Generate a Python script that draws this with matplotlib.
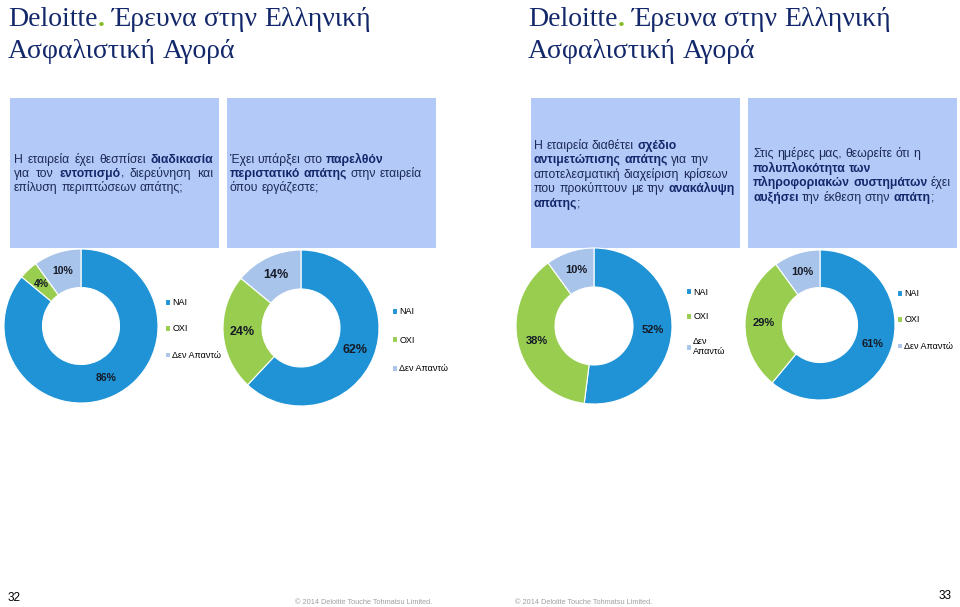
import re
import matplotlib
matplotlib.use("Agg")
import matplotlib.pyplot as plt

# data
categories = ["ΝΑΙ", "ΟΧΙ", "Δεν Απαντώ"]
procedure_vals = [86, 4, 10]      # διαδικασία εντοπισμού
incident_vals = [62, 24, 14]      # περιστατικό απάτης
plan_vals = [52, 38, 10]          # σχέδιο αντιμετώπισης
complexity_vals = [61, 29, 10]    # πολυπλοκότητα συστημάτων

W, H = 960, 607
NAVY = "#13286b"
TXT = "#1c2a55"
BOX = "#b3c9f7"
colors = ["#1f93d6", "#98cd50", "#a9c4ea"]

fig = plt.figure(figsize=(W / 100, H / 100), dpi=100)
fig.patch.set_facecolor("white")
bg = fig.add_axes([0, 0, 1, 1])
bg.set_xlim(0, W)
bg.set_ylim(H, 0)
bg.axis("off")
renderer = fig.canvas.get_renderer()


def measure(s, **kw):
    t = bg.text(0, 0, s, **kw)
    w = t.get_window_extent(renderer).width
    t.remove()
    return w


def rich_line(x, y, parts, size, family="Liberation Sans", justify=None):
    # parts: (text, bold, color); words drawn one after the other
    toks = []
    pending = False
    for text, bold, color in parts:
        for m in re.findall(r"\s*\S+", text):
            toks.append((m.strip(), pending or m[0].isspace(), bold, color))
            pending = False
        pending = text[-1].isspace()
    kw = dict(fontsize=size, family=family)
    space = measure("a a", **kw) - measure("aa", **kw)
    widths = [measure(w, fontweight="bold" if b else "normal", **kw)
              for w, _, b, _ in toks]
    gaps = sum(1 for i, t in enumerate(toks) if i > 0 and t[1])
    if justify is not None and gaps:
        space = (justify - sum(widths)) / gaps
    cx = x
    for i, (w, sp, b, c) in enumerate(toks):
        if i > 0 and sp:
            cx += space
        bg.text(cx, y, w, fontsize=size, family=family, color=c,
                fontweight="bold" if b else "normal", va="baseline", ha="left")
        cx += widths[i]


# titles
for tx in (8, 528):
    rich_line(tx, 26, [("Deloitte", False, NAVY), (".", True, "#86bc25"),
                       (" Έρευνα στην Ελληνική", False, NAVY)], 20,
              family="Liberation Serif")
    rich_line(tx, 58, [("Ασφαλιστική Αγορά", False, NAVY)], 20,
              family="Liberation Serif")

# question boxes
boxes = [(10, 219), (227, 436), (531, 740), (748, 957)]
for x0, x1 in boxes:
    bg.add_patch(plt.Rectangle((x0, 98), x1 - x0, 150, facecolor=BOX,
                               edgecolor="none"))

FS = 8.8
rich_line(14, 163, [("Η εταιρεία έχει θεσπίσει ", False, TXT),
                    ("διαδικασία", True, NAVY)], FS, justify=199)
rich_line(14, 177, [("για τον ", False, TXT), ("εντοπισμό", True, NAVY),
                    (", διερεύνηση και", False, TXT)], FS, justify=199)
rich_line(14, 191, [("επίλυση περιπτώσεων απάτης;", False, TXT)], FS)

rich_line(230, 163, [("Έχει υπάρξει στο ", False, TXT),
                     ("παρελθόν", True, NAVY)], FS)
rich_line(230, 177, [("περιστατικό απάτης", True, NAVY),
                     (" στην εταιρεία", False, TXT)], FS)
rich_line(230, 191, [("όπου εργάζεστε;", False, TXT)], FS)

rich_line(534, 149, [("Η εταιρεία διαθέτει ", False, TXT),
                     ("σχέδιο", True, NAVY)], FS)
rich_line(534, 163, [("αντιμετώπισης απάτης", True, NAVY),
                     (" για την", False, TXT)], FS)
rich_line(534, 178, [("αποτελεσματική διαχείριση κρίσεων", False, TXT)], FS)
rich_line(534, 192, [("που προκύπτουν με την ", False, TXT),
                     ("ανακάλυψη", True, NAVY)], FS)
rich_line(534, 207, [("απάτης", True, NAVY), (";", False, TXT)], FS)

rich_line(753, 157, [("Στις ημέρες μας, θεωρείτε ότι η", False, TXT)], FS)
rich_line(753, 172, [("πολυπλοκότητα των", True, NAVY)], FS)
rich_line(753, 186, [("πληροφοριακών συστημάτων", True, NAVY),
                     (" έχει", False, TXT)], FS)
rich_line(753, 201, [("αυξήσει", True, NAVY), (" την έκθεση στην ", False, TXT),
                     ("απάτη", True, NAVY), (";", False, TXT)], FS)

# donuts
donuts = [
    (procedure_vals, (81, 326), 77, 7.5, categories, (165, 329), 1.9),
    (incident_vals, (301, 328), 78, 9, categories, (392, 340), 2.15),
    (plan_vals, (594, 326), 78, 8, ["ΝΑΙ", "ΟΧΙ", "Δεν\nΑπαντώ"], (686, 322), 1.75),
    (complexity_vals, (820, 325), 75, 8, categories, (897, 320), 1.9),
]
for vals, (cx, cy), r, lfs, labs, (lx, ly), lsp in donuts:
    ax = fig.add_axes([(cx - r) / W, 1 - (cy + r) / H, 2 * r / W, 2 * r / H])
    wedges, _, autot = ax.pie(vals, colors=colors, startangle=90,
                              counterclock=False, autopct=lambda p: f"{p:.0f}%",
                              pctdistance=0.75,
                              wedgeprops=dict(width=0.5, edgecolor="white",
                                              linewidth=0.8))
    for t in autot:
        t.set_fontsize(lfs)
        t.set_fontweight("bold")
        t.set_color("#151a26")
        t.set_family("Liberation Sans")
    ax.set_xlim(-1, 1)
    ax.set_ylim(-1, 1)
    ax.legend(wedges, labs, loc="center left",
              bbox_to_anchor=(lx / W, 1 - ly / H), bbox_transform=fig.transFigure,
              frameon=False, handlelength=0.6, handleheight=0.6,
              handletextpad=0.2, labelspacing=lsp, borderpad=0, borderaxespad=0,
              prop={"family": "Liberation Sans", "size": 6.5})

# footer
bg.text(8, 598, "32", fontsize=8.5, family="Liberation Sans", va="center")
bg.text(952, 596, "33", fontsize=8.5, family="Liberation Sans", va="center",
        ha="right")
for fx in (295, 515):
    bg.text(fx, 603, "© 2014 Deloitte Touche Tohmatsu Limited.", fontsize=5.3,
            family="Liberation Sans", color="#a0a0a0", va="center")

fig.savefig("out.png", dpi=100, facecolor="white")
